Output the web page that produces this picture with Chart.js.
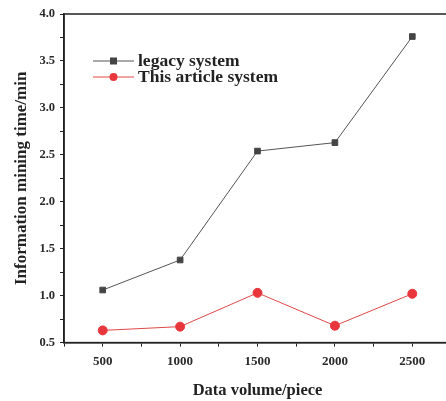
<!DOCTYPE html>
<html>
<head>
<meta charset="utf-8">
<script src="https://cdn.jsdelivr.net/npm/chart.js@4"></script>
<style>
  html, body { margin: 0; padding: 0; background: #fff; overflow: hidden; }
  .wrap { position: relative; width: 458px; height: 401px; }
</style>
</head>
<body>
<div class="wrap"><canvas id="chart"></canvas></div>
<script>
const dataVolume = [500, 1000, 1500, 2000, 2500];
const legacySystem = [1.06, 1.38, 2.54, 2.63, 3.76];
const articleSystem = [0.63, 0.67, 1.03, 0.68, 1.02];
const seriesNames = ["legacy system", "This article system"];

const serif = "'Liberation Serif', 'Times New Roman', serif";

// box around plot area + legend inside it
const framePlugin = {
  id: "frame",
  afterDraw(chart) {
    const { ctx, chartArea: a } = chart;
    ctx.save();
    ctx.strokeStyle = "#222";
    ctx.lineWidth = 1.5;
    ctx.strokeRect(a.left, a.top, a.right - a.left, a.bottom - a.top);

    const rows = [61, 77];
    chart.data.datasets.forEach((ds, i) => {
      const y = rows[i];
      ctx.strokeStyle = ds.borderColor;
      ctx.lineWidth = 1;
      ctx.beginPath();
      ctx.moveTo(93, y);
      ctx.lineTo(134, y);
      ctx.stroke();
      ctx.fillStyle = ds.pointBackgroundColor;
      if (ds.pointStyle === "rect") {
        ctx.fillRect(110, y - 3.5, 7, 7);
      } else {
        ctx.beginPath();
        ctx.arc(113.5, y, 4, 0, Math.PI * 2);
        ctx.fill();
      }
      ctx.fillStyle = "#222";
      ctx.font = "bold 17.5px " + serif;
      ctx.textBaseline = "middle";
      ctx.fillText(ds.label, 138, y);
    });
    ctx.restore();
  },
};

new Chart(document.getElementById("chart"), {
  type: "line",
  data: {
    labels: dataVolume,
    datasets: [
      {
        label: seriesNames[0],
        data: dataVolume.map((x, i) => ({ x, y: legacySystem[i] })),
        borderColor: "#555",
        borderWidth: 1,
        pointStyle: "rect",
        pointRadius: 4,
        pointBackgroundColor: "#444",
        pointBorderColor: "#444",
      },
      {
        label: seriesNames[1],
        data: dataVolume.map((x, i) => ({ x, y: articleSystem[i] })),
        borderColor: "#e04848",
        borderWidth: 1,
        pointStyle: "circle",
        pointRadius: 4.5,
        pointBackgroundColor: "#e8363c",
        pointBorderColor: "#e8363c",
      },
    ],
  },
  options: {
    responsive: true,
    maintainAspectRatio: false,
    animation: false,
    layout: { padding: { top: 14, right: 3, bottom: 0, left: 11 } },
    plugins: {
      legend: { display: false },
      tooltip: { enabled: false },
    },
    scales: {
      x: {
        type: "linear",
        min: 250,
        max: 2750,
        ticks: {
          stepSize: 250,
          autoSkip: false,
          maxRotation: 0,
          padding: 7,
          color: "#2a2a2a",
          font: { family: serif, size: 13, weight: "bold" },
          callback: (v) => (v % 500 === 0 ? String(v) : ""),
        },
        grid: {
          drawOnChartArea: false,
          tickLength: 4,
          color: "#222",
        },
        border: { color: "#222", width: 1.5 },
        title: {
          display: true,
          text: "Data volume/piece",
          color: "#222",
          font: { family: serif, size: 16.5, weight: "bold" },
          padding: { top: 5, bottom: 0 },
        },
      },
      y: {
        min: 0.5,
        max: 4.0,
        ticks: {
          stepSize: 0.25,
          autoSkip: false,
          padding: 5,
          color: "#2a2a2a",
          font: { family: serif, size: 12.5, weight: "bold" },
          callback: (v) =>
            Math.abs((v * 2) % 1) < 1e-6 ? v.toFixed(1) : "",
        },
        grid: {
          drawOnChartArea: false,
          tickLength: 4,
          color: "#222",
        },
        border: { color: "#222", width: 1.5 },
        title: {
          display: true,
          text: "Information mining time/min",
          color: "#222",
          font: { family: serif, size: 17, weight: "bold" },
          padding: { top: 0, bottom: 3 },
        },
      },
    },
  },
  plugins: [framePlugin],
});
</script>
</body>
</html>
